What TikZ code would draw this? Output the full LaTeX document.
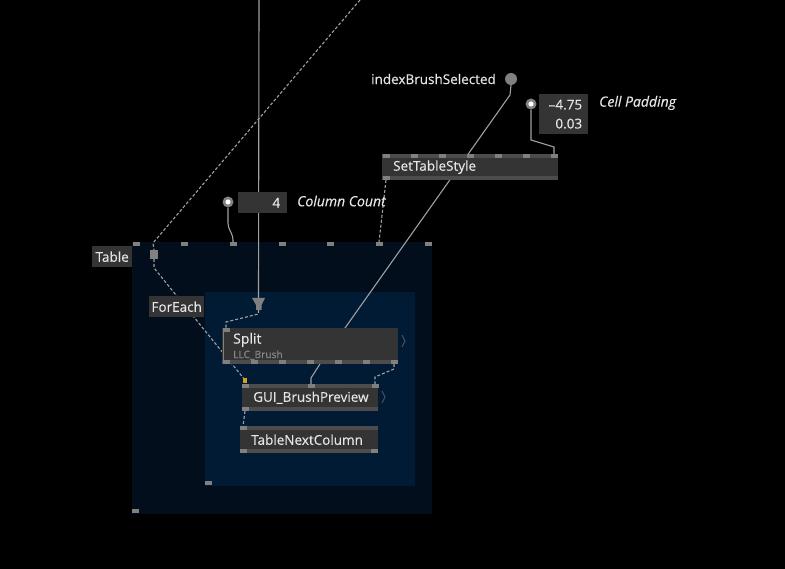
\documentclass[tikz,border=0pt]{standalone}
\usepackage{fontspec}
\setmainfont{Open Sans}[FakeBold=0.3]
\usetikzlibrary{positioning,calc}

\definecolor{tablebg}{RGB}{2,14,27}
\definecolor{loopbg}{RGB}{1,27,52}
\definecolor{opfill}{RGB}{52,52,52}
\definecolor{opband}{RGB}{76,76,76}
\definecolor{pingrey}{RGB}{128,128,128}
\definecolor{linkgrey}{RGB}{160,160,160}
\definecolor{txt}{RGB}{230,230,230}
\definecolor{subtxt}{RGB}{135,135,135}
\definecolor{chevgrey}{RGB}{80,80,80}
\definecolor{pinorange}{RGB}{215,160,20}

\pgfdeclarelayer{bg}
\pgfsetlayers{bg,main}

\newcommand{\pinrow}[2]{\foreach \px in {#2} \fill[pingrey] (\px-3.5,#1) rectangle ++(7,4);}

\tikzset{
  op/.style={fill=opfill, text=txt, anchor=north west, inner xsep=11pt, inner ysep=0pt,
    text width=#1, align=left, font=\fontsize{13.5}{15}\selectfont},
  tag/.style={fill=opfill, text=txt, anchor=north west, inner sep=0pt,
    font=\fontsize{13.5}{15}\selectfont},
  lbl/.style={text=txt, inner sep=0pt, font=\fontsize{13.5}{15}\selectfont},
  sublbl/.style={text=subtxt, inner sep=0pt, font=\fontsize{10.2}{12}\selectfont},
  iopin/.style={circle, fill=pingrey, minimum size=11pt, inner sep=0pt},
  link/.style={draw=linkgrey, line width=1.1pt},
  dlink/.style={link, dash pattern=on 3pt off 2pt},
  chev/.style={draw=chevgrey, line width=1pt}
}

\begin{document}
\begin{tikzpicture}[x=1pt, y=-1pt]
\useasboundingbox (0,0) rectangle (785,569);

\begin{pgfonlayer}{bg}
  \fill[black] (0,0) rectangle (785,569);
  % regions
  \fill[tablebg] (132,242) rectangle (432,514);
  \fill[loopbg] (205,292) rectangle (415,486);
\end{pgfonlayer}

% region pins and labels
\pinrow{242}{136,184,233,282,330,379,428}
\fill[pingrey] (132,509) rectangle (139,513);
\fill[pingrey] (205,481) rectangle (212,485);
\node[tag, minimum width=40pt, minimum height=21pt] (tablelbl) at (92,246) {Table};
\node[tag, minimum width=55pt, minimum height=21pt] (foreachlbl) at (149,296) {ForEach};
\node[fill=pingrey, minimum size=8.5pt, inner sep=0pt] (tablesq) at (154,254.5) {};

% funnel into ForEach
\fill[pingrey] (252,298) -- (265,298) -- (261.5,305) -- (261.5,310) -- (256,310) -- (256,305) -- cycle;
\coordinate (funnelin) at (258.5,298);
\coordinate (funnelout) at (258.5,310);

% inputs
\node[iopin, minimum size=12pt] (brushsel) at (511,79) {};
\node[lbl, anchor=east] (brushlbl) at (496,79) {indexBrushSelected};

\node[iopin] (padpin) at (531,104) {};
\fill[white] (padpin) circle (2.6);
\node[fill=opfill, text=txt, anchor=north west, inner xsep=6pt, inner ysep=0pt,
  minimum height=40pt, text width=37pt, align=right,
  font=\fontsize{13.5}{19}\selectfont] (padval) at (539,94) {–4.75\\0.03};
\node[lbl, anchor=west, font=\fontsize{14}{16}\selectfont\itshape] (padlbl) at (599,103) {Cell Padding};

\node[iopin] (colpin) at (228,202) {};
\fill[white] (colpin) circle (2.6);
\node[fill=opfill, text=txt, anchor=north west, inner xsep=7pt, inner ysep=0pt,
  minimum height=21pt, text width=35pt, align=right,
  font=\fontsize{13.5}{15}\selectfont] (colval) at (238,192) {4};
\node[lbl, anchor=west, font=\fontsize{14}{16}\selectfont\itshape] (collbl) at (297,201) {Column Count};

% SetTableStyle
\node[op=154pt, minimum height=26pt] (settable) at (382,154) {SetTableStyle};
\fill[opband] (settable.north west) rectangle ([yshift=-4pt]settable.north east);
\fill[opband] (settable.south west) rectangle ([yshift=4pt]settable.south east);
\pinrow{154}{386,414,442,470,498,526,554}
\pinrow{176}{386}

% Split
\node[op=154pt, minimum height=36pt] (split) at (222,328) {};
\fill[opband] (split.south west) rectangle ([yshift=4pt]split.south east);
\draw[pingrey, line width=1pt] (223.5,331) -- (223.5,361);
\pinrow{328}{226}
\pinrow{360}{226,254,282,310,338,366,394}
\node[lbl, anchor=west, font=\fontsize{14}{16}\selectfont] (splitname) at (233,340) {Split};
\node[sublbl, anchor=west] (splitsub) at (233,355) {LLC\_Brush};
\draw[chev] (402,335) -- (405,341) -- (402,347);

% GUI_BrushPreview
\node[op=114pt, minimum height=27pt] (preview) at (242,384) {GUI\_BrushPreview};
\fill[opband] (preview.north west) rectangle ([yshift=-4pt]preview.north east);
\fill[opband] (preview.south west) rectangle ([yshift=4pt]preview.south east);
\pinrow{384}{245,311,375}
\pinrow{407}{245}
\fill[pinorange] (243,378) rectangle (247,383);
\draw[chev] (382,391) -- (385,397) -- (382,403);

% TableNextColumn
\node[op=116pt, minimum height=27pt] (nextcol) at (240,426) {TableNextColumn};
\fill[opband] (nextcol.north west) rectangle ([yshift=-4pt]nextcol.north east);
\fill[opband] (nextcol.south west) rectangle ([yshift=4pt]nextcol.south east);
\pinrow{426}{243}
\pinrow{449}{243,374}

% pin coordinates
\coordinate (topA) at (259,0);
\coordinate (topB) at (360,0);
\coordinate (tbl-in3) at (233,242);
\coordinate (tbl-in6) at (379,242);
\coordinate (sts-in7) at (554,154);
\coordinate (sts-out1) at (386,180);
\coordinate (split-in1) at (226,328);
\coordinate (split-in2) at (345,328);
\coordinate (split-out) at (320,364);
\coordinate (split-out7) at (394,364);
\coordinate (prev-in1) at (245,380);
\coordinate (prev-in2) at (311,384);
\coordinate (prev-in3) at (375,384);
\coordinate (prev-out1) at (245,411);
\coordinate (nextcol-in1) at (243,426);

\begin{pgfonlayer}{bg}
  \draw[link] (topA) -- (funnelin);
  \draw[dlink] (topB) -- (153,243) -- (tablesq.north);
  \draw[dlink] (tablesq.south) -- ++(0,9) -- (prev-in1);
  \draw[dlink] (funnelout) -- ++(0,4) -- (226,322) -- (split-in1);
  \draw[link] (brushsel.south) -- (510,95) -- (split-in2);
  \draw[link] (padpin.south) -- (531,140) -- (554,147) -- (sts-in7);
  \draw[dlink] (sts-out1) -- (tbl-in6);
  \draw[link, rounded corners=4pt] (colpin.south) -- (228,227) -- (233,236) -- (tbl-in3);
  \draw[link] (split-out) -- (311,378) -- (prev-in2);
  \draw[dlink] (split-out7) -- ++(0,5) -- (375,377) -- (prev-in3);
  \draw[dlink] (prev-out1) -- (nextcol-in1);
\end{pgfonlayer}
\end{tikzpicture}
\end{document}
